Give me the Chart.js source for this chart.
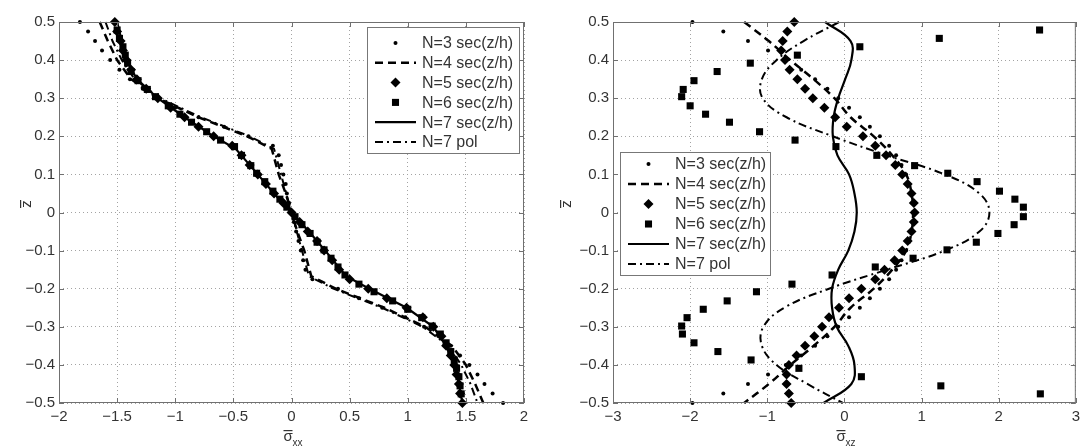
<!DOCTYPE html>
<html>
<head>
<meta charset="utf-8">
<script src="https://cdn.jsdelivr.net/npm/chart.js@4.4.0/dist/chart.umd.min.js"></script>
<style>
    body { margin: 0; background: #fff; width: 1085px; height: 448px; overflow: hidden; position: relative; }
    .panneau { position: absolute; top: 0; width: 540px; height: 448px; }
</style>
</head>
<body>
<div class="panneau" style="left:0"><canvas id="gauche" width="540" height="448"></canvas></div>
<div class="panneau" style="left:545px"><canvas id="droite" width="540" height="448"></canvas></div>
<script>
// cotes z (grille fine des marqueurs, grille des courbes, grille des carrés)
const zFin = [0.5, 0.475, 0.45, 0.425, 0.4, 0.375, 0.35, 0.325, 0.3, 0.275, 0.25, 0.225, 0.2, 0.175, 0.15, 0.125, 0.1, 0.075, 0.05, 0.025, 0,
    -0.025, -0.05, -0.075, -0.1, -0.125, -0.15, -0.175, -0.2, -0.225, -0.25, -0.275, -0.3, -0.325, -0.35, -0.375, -0.4, -0.425, -0.45, -0.475, -0.5];
const zCassure = [0.5, 0.45, 0.4, 0.35, 0.3, 0.25, 0.2, 0.167, 0.1, 0.05, 0, -0.05, -0.1, -0.167, -0.2, -0.25, -0.3, -0.35, -0.4, -0.45, -0.5];
const zGros = [0.5, 0.45, 0.4, 0.35, 0.3, 0.25, 0.2, 0.15, 0.1, 0.05, 0, -0.05, -0.1, -0.15, -0.2, -0.25, -0.3, -0.35, -0.4, -0.45, -0.5];
const zCarres = [0.479, 0.457, 0.435, 0.413, 0.392, 0.37, 0.346, 0.323, 0.304, 0.28, 0.258, 0.237, 0.212, 0.19, 0.173, 0.15, 0.123, 0.103, 0.081, 0.056, 0.035, 0.014,
    -0.011, -0.032, -0.055, -0.078, -0.098, -0.12, -0.143, -0.164, -0.188, -0.208, -0.232, -0.254, -0.276, -0.298, -0.319, -0.342, -0.365, -0.387, -0.409, -0.431, -0.455, -0.476];

const libelles = ['N=3 sec(z/h)', 'N=4 sec(z/h)', 'N=5 sec(z/h)', 'N=6 sec(z/h)', 'N=7 sec(z/h)', 'N=7 pol'];

// sigma_xx (panneau gauche)
const gN3 = [-1.82, -1.75, -1.69, -1.63, -1.56, -1.48, -1.39, -1.28, -1.16, -1.00, -0.80, -0.58, -0.37, -0.16, -0.11, -0.09, -0.07, -0.05, -0.04, -0.02, 0,
    0.02, 0.04, 0.06, 0.08, 0.10, 0.12, 0.18, 0.40, 0.58, 0.78, 0.98, 1.14, 1.27, 1.37, 1.45, 1.53, 1.60, 1.66, 1.73, 1.82];
const gN4 = [-1.65, -1.58, -1.50, -1.38, -1.15, -0.80, -0.38, -0.17, -0.11, -0.05, 0, 0.05, 0.11, 0.17, 0.38, 0.80, 1.15, 1.38, 1.50, 1.58, 1.65];
const gN5 = [-1.52, -1.50, -1.47, -1.45, -1.42, -1.38, -1.33, -1.25, -1.15, -1.04, -0.92, -0.80, -0.67, -0.51, -0.43, -0.36, -0.29, -0.22, -0.15, -0.07, 0,
    0.07, 0.14, 0.22, 0.28, 0.35, 0.41, 0.50, 0.66, 0.82, 0.99, 1.13, 1.22, 1.29, 1.33, 1.37, 1.40, 1.42, 1.44, 1.45, 1.47];
const gN6 = [-1.50, -1.48, -1.45, -1.43, -1.41, -1.38, -1.32, -1.24, -1.17, -1.06, -0.96, -0.86, -0.73, -0.61, -0.49, -0.43, -0.35, -0.30, -0.23, -0.16, -0.10, -0.04,
    0.03, 0.09, 0.16, 0.22, 0.28, 0.34, 0.40, 0.46, 0.58, 0.71, 0.87, 1.00, 1.12, 1.21, 1.28, 1.33, 1.37, 1.40, 1.42, 1.44, 1.45, 1.46];
const gN7 = [-1.50, -1.46, -1.42, -1.33, -1.15, -0.92, -0.67, -0.48, -0.29, -0.15, 0, 0.15, 0.29, 0.47, 0.67, 0.99, 1.22, 1.33, 1.40, 1.44, 1.47];
const gPol = [-1.60, -1.54, -1.46, -1.35, -1.13, -0.78, -0.36, -0.15, -0.09, -0.045, 0, 0.045, 0.09, 0.15, 0.36, 0.78, 1.13, 1.35, 1.46, 1.54, 1.60];

// sigma_xz (panneau droit)
const dN3 = [-1.97, -1.57, -1.25, -0.99, -0.76, -0.56, -0.38, -0.22, -0.08, 0.06, 0.20, 0.33, 0.46, 0.58, 0.67, 0.74, 0.80, 0.84, 0.87, 0.88, 0.89,
    0.88, 0.87, 0.84, 0.80, 0.74, 0.67, 0.58, 0.46, 0.33, 0.20, 0.06, -0.08, -0.22, -0.38, -0.56, -0.76, -0.99, -1.25, -1.57, -1.97];
const dN4 = [-1.30, -0.98, -0.70, -0.40, -0.13, 0.08, 0.38, 0.62, 0.80, 0.87, 0.89, 0.87, 0.80, 0.62, 0.38, 0.08, -0.13, -0.40, -0.70, -0.98, -1.30];
const dN5 = [-0.65, -0.74, -0.80, -0.82, -0.77, -0.71, -0.61, -0.51, -0.41, -0.26, -0.12, 0.03, 0.24, 0.40, 0.54, 0.66, 0.75, 0.82, 0.87, 0.90, 0.91,
    0.90, 0.87, 0.82, 0.75, 0.65, 0.52, 0.40, 0.22, 0.06, -0.07, -0.20, -0.29, -0.39, -0.51, -0.62, -0.72, -0.75, -0.75, -0.72, -0.69];
const dN6 = [2.53, 1.23, 0.2, -0.61, -1.22, -1.65, -1.95, -2.09, -2.11, -2.0, -1.8, -1.49, -1.1, -0.64, -0.11, 0.42, 0.91, 1.34, 1.72, 2.01, 2.21, 2.32,
    2.32, 2.2, 1.99, 1.71, 1.33, 0.89, 0.4, -0.16, -0.68, -1.14, -1.52, -1.83, -2.04, -2.11, -2.1, -1.95, -1.64, -1.21, -0.59, 0.22, 1.25, 2.54];
const dN7 = [-0.25, 0.08, 0.09, 0.01, -0.08, -0.14, -0.15, -0.09, 0.06, 0.13, 0.16, 0.13, 0.05, -0.08, -0.16, -0.16, -0.10, 0.05, 0.13, 0.09, -0.27];
const dPol = [-0.07, -0.53, -0.88, -1.07, -1.06, -0.75, -0.15, 0.55, 1.30, 1.75, 1.88, 1.75, 1.30, 0.55, -0.20, -0.78, -1.05, -1.07, -0.88, -0.48, -0.02];

const police = 'Arial, "Liberation Sans", sans-serif';
Chart.defaults.font.family = police;
Chart.defaults.color = '#333';

/**
 * Associe les contraintes (x) aux cotes z (y)
 */
function points(valeurs, cotes) {
    return valeurs.map((v, i) => ({x: v, y: cotes[i]}));
}

/**
 * Construit les six séries d'un panneau
 */
function series(n3, n4, n5, n6, n7, pol, zLignes) {
    const commun = {borderColor: '#000', backgroundColor: '#000', pointBackgroundColor: '#000', pointBorderWidth: 0, clip: false};
    const tension = zLignes === zGros ? 0.4 : 0;
    return [
        {...commun, label: libelles[0], data: points(n3, zFin), showLine: false, pointStyle: 'circle', pointRadius: 2},
        {...commun, label: libelles[1], data: points(n4, zLignes), showLine: true, borderDash: [8, 5], borderWidth: 2.5, pointRadius: 0, tension: tension},
        {...commun, label: libelles[2], data: points(n5, zFin), showLine: false, pointStyle: 'rectRot', pointRadius: 5},
        {...commun, label: libelles[3], data: points(n6, zCarres), showLine: false, pointStyle: 'rect', pointRadius: 5},
        {...commun, label: libelles[4], data: points(n7, zLignes), showLine: true, borderWidth: 2.2, pointRadius: 0, tension: tension},
        {...commun, label: libelles[5], data: points(pol, zLignes), showLine: true, borderDash: [8, 4, 2, 4], borderWidth: 2, pointRadius: 0, tension: tension}
    ];
}

function formatTick(v) {
    return String(Math.round(v * 10) / 10).replace('-', '\u2212');
}

// cadre, graduations intérieures, titres d'axes et légende façon MATLAB
const cadre = {
    id: 'cadre',
    afterDatasetsDraw(chart, args, opts) {
        const {ctx, chartArea: a, scales} = chart;
        ctx.save();
        ctx.strokeStyle = '#707070';
        ctx.lineWidth = 1;
        ctx.setLineDash([]);
        ctx.strokeRect(a.left + 0.5, a.top + 0.5, a.right - a.left - 1, a.bottom - a.top - 1);
        ctx.beginPath();
        scales.x.ticks.forEach(t => {
            const px = Math.round(scales.x.getPixelForValue(t.value)) + 0.5;
            ctx.moveTo(px, a.bottom); ctx.lineTo(px, a.bottom - 5);
            ctx.moveTo(px, a.top); ctx.lineTo(px, a.top + 5);
        });
        scales.y.ticks.forEach(t => {
            const py = Math.round(scales.y.getPixelForValue(t.value)) + 0.5;
            ctx.moveTo(a.left, py); ctx.lineTo(a.left + 5, py);
            ctx.moveTo(a.right, py); ctx.lineTo(a.right - 5, py);
        });
        ctx.stroke();

        // titre de l'axe x : sigma barre + indice
        ctx.fillStyle = '#333';
        const cx = (a.left + a.right) / 2;
        ctx.textAlign = 'left';
        ctx.textBaseline = 'alphabetic';
        ctx.font = '15px ' + police;
        ctx.fillText('\u03c3', cx - 8, 441);
        ctx.fillRect(cx - 8, 430, 9, 1.2);
        ctx.font = '10px ' + police;
        ctx.fillText(opts.indice, cx + 1, 446);

        // titre de l'axe y : z barre
        ctx.save();
        ctx.translate(opts.xTitreY, 204);
        ctx.rotate(-Math.PI / 2);
        ctx.font = '15px ' + police;
        ctx.textAlign = 'center';
        ctx.fillText('z', 0, 0);
        ctx.fillRect(-4, -11, 8, 1.2);
        ctx.restore();

        // légende
        const L = opts.legende;
        ctx.fillStyle = '#fff';
        ctx.fillRect(L.x, L.y, L.w, L.h);
        ctx.strokeStyle = '#777';
        ctx.strokeRect(L.x + 0.5, L.y + 0.5, L.w, L.h);
        chart.data.datasets.forEach((ds, i) => {
            const y = L.y + L.premiere + i * L.pas;
            const x0 = L.x + 8, x1 = L.x + 49;
            if (ds.showLine) {
                ctx.save();
                ctx.setLineDash(ds.borderDash || []);
                ctx.lineWidth = ds.borderWidth;
                ctx.strokeStyle = '#000';
                ctx.beginPath();
                ctx.moveTo(x0, y);
                ctx.lineTo(x1, y);
                ctx.stroke();
                ctx.restore();
            } else {
                ctx.fillStyle = '#000';
                Chart.helpers.drawPoint(ctx, {pointStyle: ds.pointStyle, radius: ds.pointRadius, rotation: 0, borderWidth: 0}, (x0 + x1) / 2, y);
            }
            ctx.fillStyle = '#333';
            ctx.font = '16px ' + police;
            ctx.textAlign = 'left';
            ctx.textBaseline = 'middle';
            ctx.fillText(ds.label, L.x + 55, y + 1);
        });
        ctx.restore();
    }
};

function creerGraphique(id, datasets, xMin, xMax, pasX, largeurY, margeDroite, optsCadre) {
    const axeCommun = {
        type: 'linear',
        grid: {color: '#a3a3a3', lineWidth: 1, drawTicks: false},
        border: {display: false, dash: [1, 3]}
    };
    new Chart(document.getElementById(id).getContext('2d'), {
        type: 'scatter',
        data: {datasets: datasets},
        options: {
            responsive: false,
            animation: false,
            layout: {padding: {top: 22, right: margeDroite, left: 0, bottom: 0}},
            scales: {
                x: {
                    ...axeCommun,
                    min: xMin,
                    max: xMax,
                    ticks: {stepSize: pasX, autoSkip: false, padding: 5, font: {size: 15}, color: '#333', callback: formatTick},
                    afterFit(scale) { scale.height = 45; }
                },
                y: {
                    ...axeCommun,
                    min: -0.5,
                    max: 0.5,
                    ticks: {stepSize: 0.1, autoSkip: false, padding: 4, font: {size: 15}, color: '#333', callback: formatTick},
                    afterFit(scale) { scale.width = largeurY; }
                }
            },
            plugins: {
                legend: {display: false},
                tooltip: {enabled: false},
                cadre: optsCadre
            }
        },
        plugins: [cadre]
    });
}

creerGraphique('gauche', series(gN3, gN4, gN5, gN6, gN7, gPol, zCassure), -2, 2, 0.5, 59, 16, {
    indice: 'xx',
    xTitreY: 31,
    legende: {x: 367, y: 27, w: 152, h: 126, premiere: 16, pas: 19.8}
});
creerGraphique('droite', series(dN3, dN4, dN5, dN6, dN7, dPol, zGros), -3, 3, 1, 68, 7, {
    indice: 'xz',
    xTitreY: 26,
    legende: {x: 75, y: 152, w: 150, h: 123, premiere: 12, pas: 20}
});
</script>
</body>
</html>
